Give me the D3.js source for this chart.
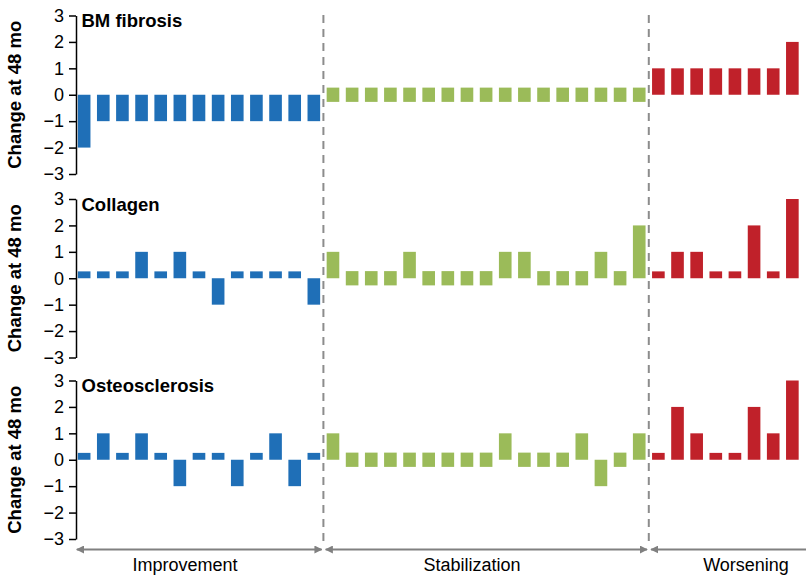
<!DOCTYPE html>
<html>
<head>
<meta charset="utf-8">
<script src="https://cdn.jsdelivr.net/npm/d3@7"></script>
<style>
  html, body { margin: 0; padding: 0; background: #fff; }
  svg { display: block; font-family: Arial, "Liberation Sans", sans-serif; }
</style>
</head>
<body>
<svg id="chart" width="806" height="577"></svg>
<script>
// ---- Data ----
const groups = ["Improvement", "Stabilization", "Worsening"];
const groupSizes = [13, 17, 8];
const panels = ["BM fibrosis", "Collagen", "Osteosclerosis"];
const yTicks = [-3, -2, -1, 0, 1, 2, 3];
const yTitle = "Change at 48 mo";

// change at 48 months, per patient (Improvement 13, Stabilization 17, Worsening 8)
const bmFibrosis = [
  -2, -1, -1, -1, -1, -1, -1, -1, -1, -1, -1, -1, -1,
  0, 0, 0, 0, 0, 0, 0, 0, 0, 0, 0, 0, 0, 0, 0, 0, 0,
  1, 1, 1, 1, 1, 1, 1, 2
];
const collagen = [
  0, 0, 0, 1, 0, 1, 0, -1, 0, 0, 0, 0, -1,
  1, 0, 0, 0, 1, 0, 0, 0, 0, 1, 1, 0, 0, 0, 1, 0, 2,
  0, 1, 1, 0, 0, 2, 0, 3
];
const osteosclerosis = [
  0, 1, 0, 1, 0, -1, 0, 0, -1, 0, 1, -1, 0,
  1, 0, 0, 0, 0, 0, 0, 0, 0, 1, 0, 0, 0, 1, -1, 0, 1,
  0, 2, 1, 0, 0, 2, 1, 3
];
const panelValues = [bmFibrosis, collagen, osteosclerosis];
const groupColors = ["#1F6FB7", "#9BBB59", "#C0212A"];

// ---- Layout ----
const svg = d3.select("#chart");
const W = 806;
const panelTops = [15.5, 199, 380.5];
const panelH = 158.5;
const axisX = 76;
const font = 'Arial, "Liberation Sans", sans-serif';

const groupOf = [];
groups.forEach((g, gi) => { for (let k = 0; k < groupSizes[gi]; k++) groupOf.push(gi); });
const idx = d3.range(groupOf.length);

const x = d3.scaleBand().domain(idx).range([74, 802.5]).paddingInner(0.34).paddingOuter(0.2);
const bw = x.bandwidth();

const groupStart = [], groupEnd = [];
let acc = 0;
groupSizes.forEach((n, gi) => { groupStart.push(acc); groupEnd.push(acc + n - 1); acc += n; });

// dividers
const dividerX = [1, 2].map(gi => (x(groupEnd[gi - 1]) + bw + x(groupStart[gi])) / 2);
svg.selectAll("line.divider").data(dividerX).join("line")
  .attr("class", "divider")
  .attr("x1", d => d).attr("x2", d => d)
  .attr("y1", 15).attr("y2", 541)
  .attr("stroke", "#8C8C8C").attr("stroke-width", 2)
  .attr("stroke-dasharray", "8,6");

panels.forEach((name, pi) => {
  const top = panelTops[pi];
  const y = d3.scaleLinear().domain([-3, 3]).range([top + panelH, top]);
  const g = svg.append("g");
  const vals = panelValues[pi];

  g.selectAll("rect").data(idx).join("rect")
    .attr("x", i => x(i))
    .attr("width", bw)
    .attr("y", i => {
      const v = vals[i], gi = groupOf[i];
      if (v === 0) return gi === 1 ? y(0.27) : y(0.26);
      return Math.min(y(v), y(0));
    })
    .attr("height", i => {
      const v = vals[i], gi = groupOf[i];
      if (v === 0) return gi === 1 ? y(-0.27) - y(0.27) : y(0) - y(0.26);
      return Math.abs(y(v) - y(0));
    })
    .attr("fill", i => groupColors[groupOf[i]]);

  const ax = g.append("g")
    .attr("transform", `translate(${axisX},0)`)
    .call(d3.axisLeft(y).tickValues(yTicks).tickFormat(d3.format("d"))
      .tickSize(7).tickSizeOuter(0).tickPadding(5));
  ax.select(".domain").attr("stroke", "#000").attr("stroke-width", 1.5);
  ax.selectAll(".tick line").attr("stroke", "#000").attr("stroke-width", 1.5);
  ax.selectAll(".tick text").attr("font-size", 18).attr("font-family", font).attr("fill", "#000");

  g.append("text")
    .attr("x", 81.5).attr("y", top + 11.5)
    .attr("font-size", 18.5).attr("font-weight", "bold").attr("font-family", font)
    .text(name);

  g.append("text")
    .attr("transform", `translate(21,${top + panelH / 2}) rotate(-90)`)
    .attr("text-anchor", "middle")
    .attr("font-size", 18.5).attr("font-weight", "bold").attr("font-family", font)
    .text(yTitle);
});

// arrows
const defs = svg.append("defs");
defs.append("marker").attr("id", "ah").attr("viewBox", "0 0 10 10")
  .attr("refX", 9).attr("refY", 5).attr("markerWidth", 4).attr("markerHeight", 4)
  .attr("orient", "auto-start-reverse")
  .append("path").attr("d", "M0,0 L10,5 L0,10 Z").attr("fill", "#808080");

const arrowY = 549.5;
groups.forEach((name, gi) => {
  const x1 = x(groupStart[gi]) - 1;
  const x2 = gi === 2 ? W + 20 : x(groupEnd[gi]) + bw + 1.5;
  svg.append("line")
    .attr("x1", x1).attr("x2", x2).attr("y1", arrowY).attr("y2", arrowY)
    .attr("stroke", "#808080").attr("stroke-width", 2)
    .attr("marker-start", "url(#ah)").attr("marker-end", "url(#ah)");
  const cx = (x(groupStart[gi]) + x(groupEnd[gi]) + bw) / 2 - 14;
  svg.append("text")
    .attr("x", gi === 2 ? 746 : cx).attr("y", 570.5)
    .attr("text-anchor", "middle")
    .attr("font-size", 18).attr("font-family", font)
    .text(name);
});
</script>
</body>
</html>
